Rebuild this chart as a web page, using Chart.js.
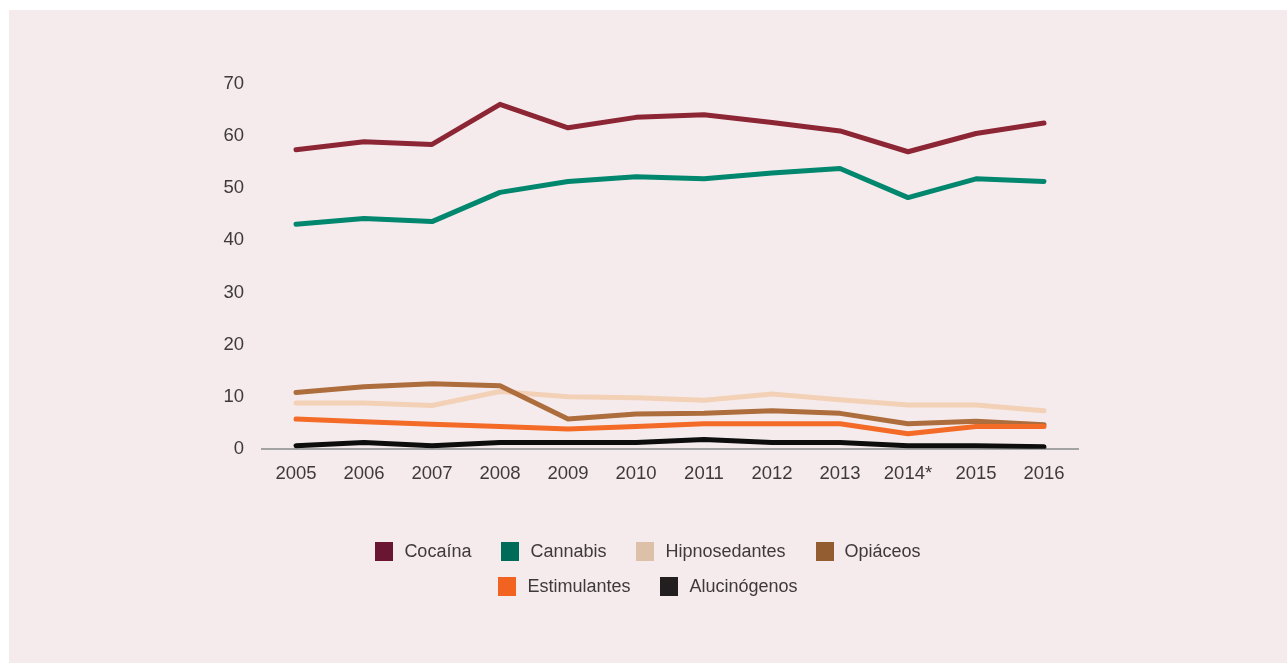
<!DOCTYPE html>
<html>
<head>
<meta charset="utf-8">
<script src="https://cdn.jsdelivr.net/npm/chart.js@4"></script>
<style>
  body { margin: 0; background: #fff; }
  #panel { position: absolute; left: 9px; top: 10px; width: 1278px; height: 653px; background: #f5ebed; }
  #chartBox { position: absolute; left: 0; top: 0; width: 1278px; height: 653px; }
  #legend { position: absolute; left: 0; top: 524px; width: 1278px; font-family: "Liberation Sans", Arial, sans-serif; font-size: 18px; color: #3e3a3b; }
  .row { display: flex; justify-content: center; height: 35px; align-items: center; }
  .item { display: flex; align-items: center; margin: 0 15px; }
  .sw { width: 18px; height: 19px; margin-right: 11px; }
</style>
</head>
<body>
<div id="panel">
  <div id="chartBox"><canvas id="myChart"></canvas></div>
  <div id="legend"></div>
</div>
<script>
// Datos
const years = ['2005', '2006', '2007', '2008', '2009', '2010', '2011', '2012', '2013', '2014*', '2015', '2016'];
const cocaina = [57.4, 58.9, 58.4, 66.1, 61.6, 63.6, 64.1, 62.6, 61.0, 57.0, 60.5, 62.5];
const cannabis = [43.1, 44.2, 43.6, 49.2, 51.3, 52.2, 51.8, 52.9, 53.8, 48.2, 51.8, 51.3];
const hipnosedantes = [8.8, 8.8, 8.3, 11.0, 10.0, 9.8, 9.3, 10.5, 9.4, 8.4, 8.4, 7.3];
const opiaceos = [10.8, 11.9, 12.5, 12.1, 5.7, 6.7, 6.8, 7.3, 6.8, 4.8, 5.3, 4.6];
const estimulantes = [5.7, 5.2, 4.7, 4.3, 3.8, 4.3, 4.8, 4.8, 4.8, 2.9, 4.3, 4.3];
const alucinogenos = [0.6, 1.2, 0.6, 1.2, 1.2, 1.2, 1.8, 1.2, 1.2, 0.6, 0.6, 0.4];
const yTicks = [0, 10, 20, 30, 40, 50, 60, 70];

// nombre, datos, color de la línea, color de la leyenda, orden de dibujo
const series = [
  ['Cocaína', cocaina, '#8c2634', '#6a1632', 5],
  ['Cannabis', cannabis, '#00876e', '#006b59', 4],
  ['Hipnosedantes', hipnosedantes, '#f3d1b7', '#dcc0a8', 3],
  ['Opiáceos', opiaceos, '#ad6d3c', '#935d31', 2],
  ['Estimulantes', estimulantes, '#f36b27', '#f26322', 0],
  ['Alucinógenos', alucinogenos, '#0d0d0d', '#231f20', 1]
];

const datasets = series.map(s => ({
  label: s[0],
  data: s[1],
  borderColor: s[2],
  backgroundColor: s[3],
  borderWidth: 5,
  borderCapStyle: 'round',
  borderJoinStyle: 'round',
  pointRadius: 0,
  tension: 0,
  order: s[4]
}));

const font = { family: '"Liberation Sans", Arial, sans-serif', size: 18.5 };

const config = {
  type: 'line',
  data: { labels: years, datasets: datasets },
  options: {
    responsive: true,
    maintainAspectRatio: false,
    animation: false,
    layout: { padding: { left: 200, right: 209, top: 74, bottom: 164 } },
    plugins: { legend: { display: false }, tooltip: { enabled: false } },
    scales: {
      x: {
        offset: true,
        grid: { display: false, drawTicks: false },
        border: { display: true, color: '#a3a3a3', width: 2 },
        ticks: { color: '#3e3a3b', font: font, padding: 14, maxRotation: 0 }
      },
      y: {
        min: 0,
        max: 70,
        afterFit: scale => { scale.width = 53; },
        afterBuildTicks: scale => { scale.ticks = yTicks.map(v => ({ value: v })); },
        grid: { display: false, drawTicks: false },
        border: { display: false },
        ticks: { color: '#3e3a3b', font: font, padding: 18 }
      }
    }
  }
};

const myChart = new Chart(document.getElementById('myChart'), config);

// leyenda en dos filas (4 + 2)
const legend = document.getElementById('legend');
[series.slice(0, 4), series.slice(4)].forEach(rowItems => {
  const row = document.createElement('div');
  row.className = 'row';
  rowItems.forEach(s => {
    const item = document.createElement('div');
    item.className = 'item';
    item.innerHTML = '<span class="sw" style="background:' + s[3] + '"></span><span>' + s[0] + '</span>';
    row.appendChild(item);
  });
  legend.appendChild(row);
});
</script>
</body>
</html>
